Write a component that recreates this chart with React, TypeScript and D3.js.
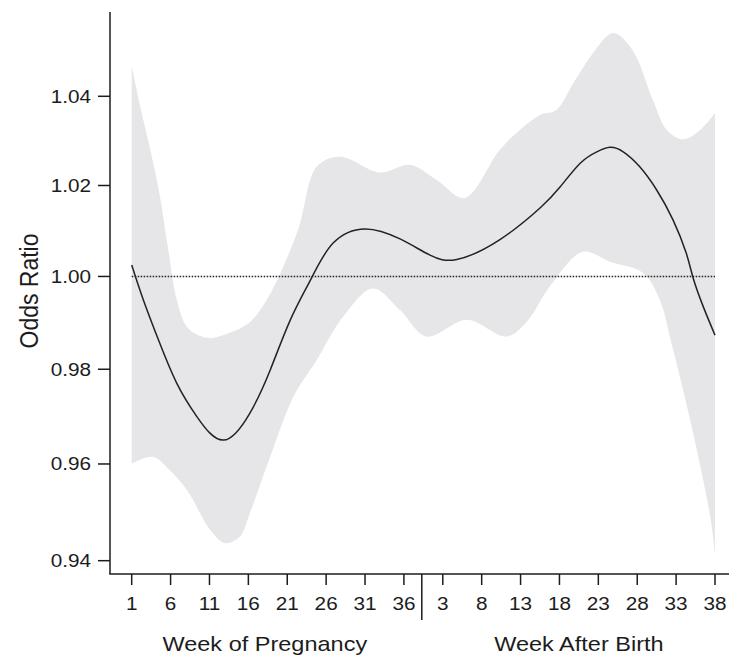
import React from 'react';
import * as d3 from 'd3';

// time runs on one index: pregnancy week w -> w, week after birth b -> 38 + b
const BIRTH_OFFSET = 38;
const DIVIDER_WEEK = 38.3;

const pregnancyTicks = [1, 6, 11, 16, 21, 26, 31, 36];
const birthTicks = [3, 8, 13, 18, 23, 28, 33, 38];
const oddsTicks = [0.94, 0.96, 0.98, 1.0, 1.02, 1.04];

// fitted odds ratio (solid line)
const lineWeeks = [1, 2.5, 4.6, 6.8, 9.4, 12.8, 16.2, 18.8, 21.4, 24.1, 26.9, 31, 35.5, 39.3, 42.8, 48.3, 53.5, 56.1, 58.7, 60.8, 62.5, 64.2, 66.3, 68.5, 70.6, 72.3, 73.2, 74.5, 76];
const lineOdds = [1.0025, 0.9949, 0.9856, 0.977, 0.9699, 0.965, 0.9707, 0.9798, 0.9906, 0.9996, 1.0073, 1.0104, 1.0082, 1.0047, 1.0037, 1.008, 1.015, 1.0197, 1.025, 1.0275, 1.0285, 1.0275, 1.0242, 1.019, 1.0124, 1.0051, 0.9996, 0.9934, 0.9873];

// 95% confidence band, upper edge
const upperWeeks = [1, 2.2, 3.4, 4.6, 5.7, 6.8, 8.1, 9.8, 11.3, 13.6, 16.2, 18.1, 19.7, 21.4, 22.6, 24.8, 27.8, 32.9, 36.8, 40.2, 43.8, 48.3, 50.9, 53.5, 55.6, 57.8, 60.3, 62.9, 65.4, 68, 69.8, 71.9, 74.1, 76];
const upperOdds = [1.0469, 1.0369, 1.0279, 1.0179, 1.0058, 0.9949, 0.9891, 0.9871, 0.9867, 0.9878, 0.9901, 0.9942, 0.9992, 1.0058, 1.0113, 1.0242, 1.0264, 1.0229, 1.0246, 1.0212, 1.0172, 1.0279, 1.0324, 1.0358, 1.0369, 1.043, 1.0498, 1.0544, 1.0505, 1.0392, 1.0324, 1.0303, 1.0324, 1.0362];

// 95% confidence band, lower edge
const lowerWeeks = [1, 3.7, 5.9, 8.1, 11.1, 13, 14.9, 16.2, 18.8, 21.8, 24.8, 28.2, 32, 35.5, 38.9, 44.1, 49.2, 51.8, 54.8, 59, 62.5, 66.8, 68.9, 70.4, 73.2, 75.4, 76];
const lowerOdds = [0.9601, 0.9615, 0.9587, 0.9546, 0.9463, 0.9436, 0.9449, 0.9498, 0.9615, 0.9742, 0.982, 0.9913, 0.9974, 0.9927, 0.987, 0.9906, 0.987, 0.9902, 0.9979, 1.0054, 1.0032, 1.0007, 0.9949, 0.9856, 0.9664, 0.949, 0.9415];

const WIDTH = 729;
const HEIGHT = 659;
const AXIS_X = 110;
const AXIS_TOP = 12;
const AXIS_Y = 574;
const FONT = '"Liberation Sans", Arial, Helvetica, sans-serif';
const INK = '#1c1c1c';
const STRETCH = 1.12;

const x = d3.scaleLinear().domain([1, 76]).range([131.7, 715]);
const y = d3.scaleLog().domain([0.93728, 1.05926]).range([AXIS_Y, AXIS_TOP]);

const zip = (ws: number[], vs: number[]) => ws.map((w, i) => [w, vs[i]] as [number, number]);

const bandLine = d3.line<[number, number]>()
  .x(d => x(d[0]))
  .y(d => y(d[1]))
  .curve(d3.curveCatmullRom.alpha(0.5));

const fitLine = d3.line<[number, number]>()
  .x(d => x(d[0]))
  .y(d => y(d[1]))
  .curve(d3.curveNatural);

function Label({ x, y, size, anchor = 'middle', rotate = 0, children }: any) {
  let tf = `translate(${x},${y}) scale(${STRETCH},1)`;
  if (rotate) tf += ` rotate(${rotate})`;
  return (
    <text transform={tf} fontSize={size} textAnchor={anchor} fill={INK} fontFamily={FONT}>
      {children}
    </text>
  );
}

function Band() {
  const top = bandLine(zip(upperWeeks, upperOdds)) as string;
  const bottom = bandLine(zip(lowerWeeks, lowerOdds).reverse()) as string;
  const d = top + 'L' + bottom.slice(1) + 'Z';
  return <path d={d} fill="#e6e6e8" stroke="none" />;
}

function YAxis() {
  return (
    <g>
      <line x1={AXIS_X} x2={AXIS_X} y1={AXIS_TOP} y2={AXIS_Y} stroke={INK} strokeWidth={1.5} />
      {oddsTicks.map(t => (
        <g key={t}>
          <line x1={AXIS_X - 12} x2={AXIS_X} y1={y(t)} y2={y(t)} stroke={INK} strokeWidth={1.5} />
          <Label x={91} y={y(t) + 6.5} size={18.5} anchor="end">{t.toFixed(2)}</Label>
        </g>
      ))}
      <Label x={38} y={291} size={23} rotate={-90}>Odds Ratio</Label>
    </g>
  );
}

function XAxis() {
  const ticks = pregnancyTicks.map(w => ({ pos: w, label: w }))
    .concat(birthTicks.map(b => ({ pos: b + BIRTH_OFFSET, label: b })));
  const midPreg = (x(pregnancyTicks[0]) + x(pregnancyTicks[pregnancyTicks.length - 1])) / 2;
  const midBirth = (x(birthTicks[0] + BIRTH_OFFSET) + x(birthTicks[birthTicks.length - 1] + BIRTH_OFFSET)) / 2;
  return (
    <g>
      <line x1={AXIS_X - 0.75} x2={WIDTH} y1={AXIS_Y} y2={AXIS_Y} stroke={INK} strokeWidth={1.5} />
      {ticks.map((t, i) => (
        <g key={i}>
          <line x1={x(t.pos)} x2={x(t.pos)} y1={AXIS_Y} y2={AXIS_Y + 11} stroke={INK} strokeWidth={1.5} />
          <Label x={x(t.pos)} y={609.5} size={18.5}>{t.label}</Label>
        </g>
      ))}
      <line x1={x(DIVIDER_WEEK)} x2={x(DIVIDER_WEEK)} y1={AXIS_Y} y2={620} stroke={INK} strokeWidth={1.5} />
      <Label x={midPreg - 3} y={651} size={21}>Week of Pregnancy</Label>
      <Label x={midBirth} y={651} size={21}>Week After Birth</Label>
    </g>
  );
}

export default function App() {
  return (
    <svg width={WIDTH} height={HEIGHT} style={{ position: 'absolute', left: 0, top: 0, background: '#fff' }}>
      <Band />
      <line x1={x(1)} x2={x(76)} y1={y(1)} y2={y(1)} stroke="#222" strokeWidth={1.5} strokeDasharray="1.5,1.5" />
      <path d={fitLine(zip(lineWeeks, lineOdds)) as string} fill="none" stroke="#222" strokeWidth={1.5} />
      <YAxis />
      <XAxis />
    </svg>
  );
}
